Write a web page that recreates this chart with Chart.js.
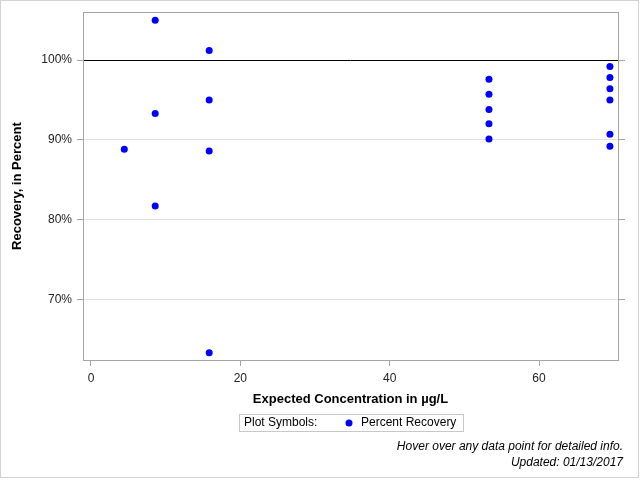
<!DOCTYPE html>
<html>
<head>
<meta charset="utf-8">
<script src="https://cdn.jsdelivr.net/npm/chart.js@4/dist/chart.umd.min.js"></script>
<style>
    body { margin: 0; background: #fff; }
    canvas { display: block; }
</style>
</head>
<body>
<canvas id="recovery" width="640" height="480"></canvas>
<script>
// ======= Data
const concentration = [4.46, 8.6, 8.6, 8.6, 15.83, 15.83, 15.83, 15.83,
    53.3, 53.3, 53.3, 53.3, 53.3, 69.5, 69.5, 69.5, 69.5, 69.5, 69.5];
const recovery = [88.8, 105.0, 93.3, 81.7, 101.2, 95.0, 88.6, 63.3,
    97.6, 95.7, 93.8, 92.0, 90.1, 99.2, 97.8, 96.4, 95.0, 90.7, 89.2];
const xTicks = [0, 20, 40, 60];
const yTicks = [70, 80, 90, 100];

const points = concentration.map((x, i) => ({x: x, y: recovery[i]}));
const font = 'Liberation Sans, Arial, sans-serif';

// frame around plot, legend box, footnotes and outer border
const extras = {
    id: 'extras',
    afterDraw: (chart) => {
        const c = chart.ctx;
        const a = chart.chartArea;
        c.save();
        c.strokeStyle = '#a5a5a5';
        c.lineWidth = 1;
        c.strokeRect(Math.round(a.left) + 0.5, Math.round(a.top) + 0.5,
            Math.round(a.right - a.left), Math.round(a.bottom - a.top));
        // outer border
        c.strokeStyle = '#d3d3d3';
        c.strokeRect(0.5, 0.5, 638, 477);
        // legend
        c.strokeStyle = '#c8c8c8';
        c.strokeRect(239.5, 414.5, 224, 17);
        c.fillStyle = '#000';
        c.font = '12px ' + font;
        c.textBaseline = 'middle';
        c.textAlign = 'left';
        c.fillText('Plot Symbols:', 244, 423);
        c.fillText('Percent Recovery', 361, 423);
        c.fillStyle = '#0000ff';
        c.beginPath();
        c.arc(349, 423, 3.5, 0, Math.PI * 2);
        c.fill();
        // footnotes
        c.fillStyle = '#000';
        c.font = 'italic 12px ' + font;
        c.textAlign = 'right';
        c.fillText('Hover over any data point for detailed info.', 623, 447);
        c.fillText('Updated: 01/13/2017', 623, 463);
        c.restore();
    }
};

const chart = new Chart(document.querySelector('#recovery'), {
    type: 'scatter',
    data: {
        datasets: [{
            label: 'Percent Recovery',
            data: points,
            backgroundColor: '#0000ff',
            borderWidth: 0,
            pointRadius: 3.5,
            pointHoverRadius: 5
        }]
    },
    options: {
        responsive: false,
        animation: false,
        layout: {
            padding: {top: 11, left: 6, right: 0, bottom: 70}
        },
        plugins: {
            legend: {display: false}
        },
        scales: {
            x: {
                type: 'linear',
                min: -1.07,
                max: 70.58,
                afterBuildTicks: (scale) => { scale.ticks = xTicks.map(v => ({value: v})); },
                afterFit: (scale) => { scale.height = 50; },
                border: {display: false},
                grid: {
                    drawOnChartArea: false,
                    tickLength: 6,
                    tickColor: '#a5a5a5'
                },
                ticks: {
                    padding: 5,
                    color: '#222',
                    font: {family: font, size: 12}
                },
                title: {
                    display: true,
                    text: 'Expected Concentration in µg/L',
                    color: '#000',
                    padding: {top: 0, bottom: 3},
                    font: {family: font, size: 13, weight: 'bold'}
                }
            },
            y: {
                type: 'linear',
                position: 'left',
                min: 62.375,
                max: 106,
                afterBuildTicks: (scale) => { scale.ticks = yTicks.map(v => ({value: v})); },
                afterFit: (scale) => { scale.width = 77; },
                border: {display: false},
                grid: {
                    color: (ctx) => ctx.tick && ctx.tick.value === 100 ? '#000' : '#e0e0e0',
                    tickColor: '#a5a5a5',
                    tickLength: 6
                },
                ticks: {
                    padding: 5,
                    color: '#222',
                    font: {family: font, size: 12},
                    callback: (v) => v + '%'
                },
                title: {
                    display: true,
                    text: 'Recovery, in Percent',
                    color: '#000',
                    padding: {top: 4, bottom: 0},
                    font: {family: font, size: 13, weight: 'bold'}
                }
            },
            y2: {
                type: 'linear',
                position: 'right',
                min: 62.375,
                max: 106,
                afterBuildTicks: (scale) => { scale.ticks = yTicks.map(v => ({value: v})); },
                afterFit: (scale) => { scale.width = 22; },
                border: {display: false},
                grid: {
                    drawOnChartArea: false,
                    tickColor: '#a5a5a5',
                    tickLength: 7
                },
                ticks: {display: false}
            }
        }
    },
    plugins: [extras]
});
</script>
</body>
</html>
